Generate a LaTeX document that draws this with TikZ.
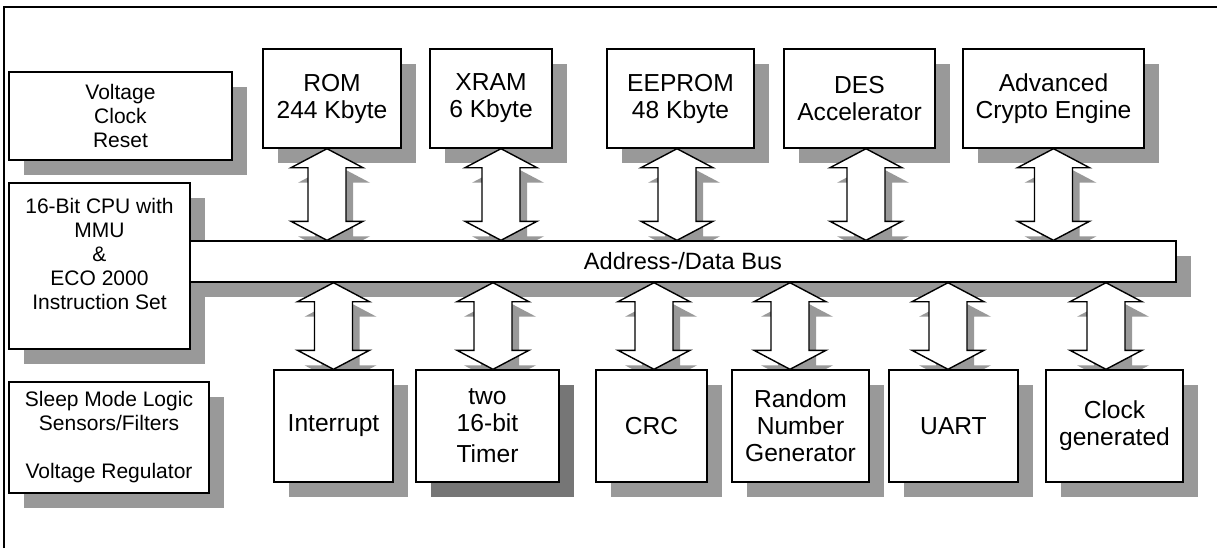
\documentclass[tikz,border=0pt]{standalone}
\usepackage{fontspec}
\setmainfont{Liberation Sans}
\usetikzlibrary{calc,shadows}
\pgfdeclarelayer{bg}
\pgfsetlayers{bg,main}
\definecolor{shgray}{RGB}{153,153,153}
\definecolor{shdark}{RGB}{118,118,118}
\tikzset{
  box/.style={draw=black, line width=0.7pt, fill=white, align=center, inner sep=2pt},
  shbox/.style={box, drop shadow={shadow xshift=7.5pt, shadow yshift=-7.5pt, fill=shgray, opacity=1}},
  darkbox/.style={box, drop shadow={shadow xshift=7.5pt, shadow yshift=-7.5pt, fill=shdark, opacity=1}},
  bigtxt/.style={font=\fontsize{12.3pt}{13.5pt}\selectfont},
  smalltxt/.style={font=\fontsize{10.5pt}{12pt}\selectfont},
  topbox/.style={shbox, bigtxt, minimum height=49.5pt},
  lowbox/.style={shbox, bigtxt, minimum height=56pt},
  arrbody/.style={draw=black, line width=0.7pt, fill=white, line join=miter},
  arrshadow/.style={fill=shgray},
}
% #1 style, #2 point giving x, #3 point giving top y, #4 point giving bottom y, #5 offset
\newcommand\dblarr[5]{%
  \path[#1] let \p1=(#2), \p2=(#3), \p3=(#4), \p4=(#5) in
    (\x1+\x4,\y2+\y4)
    -- (\x1+\x4+18pt,\y2+\y4-9.5pt) -- (\x1+\x4+9.5pt,\y2+\y4-9.5pt)
    -- (\x1+\x4+9.5pt,\y3+\y4+9.5pt) -- (\x1+\x4+18pt,\y3+\y4+9.5pt)
    -- (\x1+\x4,\y3+\y4)
    -- (\x1+\x4-18pt,\y3+\y4+9.5pt) -- (\x1+\x4-9.5pt,\y3+\y4+9.5pt)
    -- (\x1+\x4-9.5pt,\y2+\y4-9.5pt) -- (\x1+\x4-18pt,\y2+\y4-9.5pt)
    -- cycle;}
\newcommand\busarr[3]{%
  \begin{pgfonlayer}{bg}\dblarr{arrshadow}{#1}{#2}{#3}{3.5pt,-7.5pt}\end{pgfonlayer}%
  \dblarr{arrbody}{#1}{#2}{#3}{0pt,0pt}}
\begin{document}
\begin{tikzpicture}[x=0.5pt,y=-0.5pt]
\useasboundingbox (0,0) rectangle (1217,548);
\begin{pgfonlayer}{bg}
  \fill[white] (0,0) rectangle (1217,548);
\end{pgfonlayer}
% frame
\draw[line width=1pt] (4,548) -- (4,6.5) -- (1217,6.5);

% left column
\node[shbox, smalltxt, minimum width=111.5pt, minimum height=44pt] (vcr) at (120.5,116) {Voltage\\Clock\\Reset};
\node[shbox, smalltxt, minimum width=90.5pt, minimum height=83pt] (cpu) at (99.5,266)
  {16-Bit CPU with\\MMU\\\&\\ECO 2000\\Instruction Set\\\mbox{}};
\node[shbox, smalltxt, minimum width=100pt, minimum height=55.5pt] (sleep) at (109,437.5)
  {Sleep Mode Logic\\Sensors/Filters\\\mbox{}\\Voltage Regulator};

% bus
\node[shbox, font=\fontsize{11.8pt}{13.5pt}\selectfont, minimum width=493pt, minimum height=20.5pt] (bus) at (683,261.5) {Address-/Data Bus};

% top row
\node[topbox, minimum width=69pt]   (rom)    at (332,98.5)    {ROM\\244 Kbyte};
\node[topbox, minimum width=61pt]   (xram)   at (491,98.5)    {XRAM\\6 Kbyte};
\node[topbox, minimum width=73.5pt] (eeprom) at (680.5,98.5)  {EEPROM\\48 Kbyte};
\node[topbox, minimum width=75.5pt] (des)    at (859.5,98.5)  {DES\\Accelerator};
\node[topbox, minimum width=90.5pt] (ace)    at (1053.5,98.5) {Advanced\\Crypto Engine};

% bottom row
\node[lowbox, minimum width=59.5pt] (int)   at (333.5,426)  {Interrupt};
\node[darkbox, bigtxt, minimum height=56pt, minimum width=71.5pt] (timer) at (487.5,426) {two\\16-bit\\[2pt]Timer};
\node[lowbox, minimum width=55.5pt] (crc)   at (651.5,426)  {CRC};
\node[lowbox, minimum width=68.5pt] (rng)   at (800.5,426)  {Random\\Number\\Generator};
\node[lowbox, minimum width=64.5pt] (uart)  at (953.5,426)  {UART};
\node[lowbox, minimum width=68.5pt] (clk)   at (1114.5,426) {Clock\\generated};

% arrows between top boxes and bus
\busarr{[xshift=-2.5pt]rom.south}{rom.south}{bus.north}
\busarr{[xshift=5pt]xram.south}{xram.south}{bus.north}
\busarr{[xshift=-1.75pt]eeprom.south}{eeprom.south}{bus.north}
\busarr{[xshift=3.25pt]des.south}{des.south}{bus.north}
\busarr{ace.south}{ace.south}{bus.north}

% arrows between bus and bottom boxes
\busarr{int.north}{bus.south}{int.north}
\busarr{[xshift=2.75pt]timer.north}{bus.south}{timer.north}
\busarr{[xshift=1.25pt]crc.north}{bus.south}{crc.north}
\busarr{[xshift=-5.25pt]rng.north}{bus.south}{rng.north}
\busarr{[xshift=-2.75pt]uart.north}{bus.south}{uart.north}
\busarr{[xshift=-4.25pt]clk.north}{bus.south}{clk.north}
\end{tikzpicture}
\end{document}
